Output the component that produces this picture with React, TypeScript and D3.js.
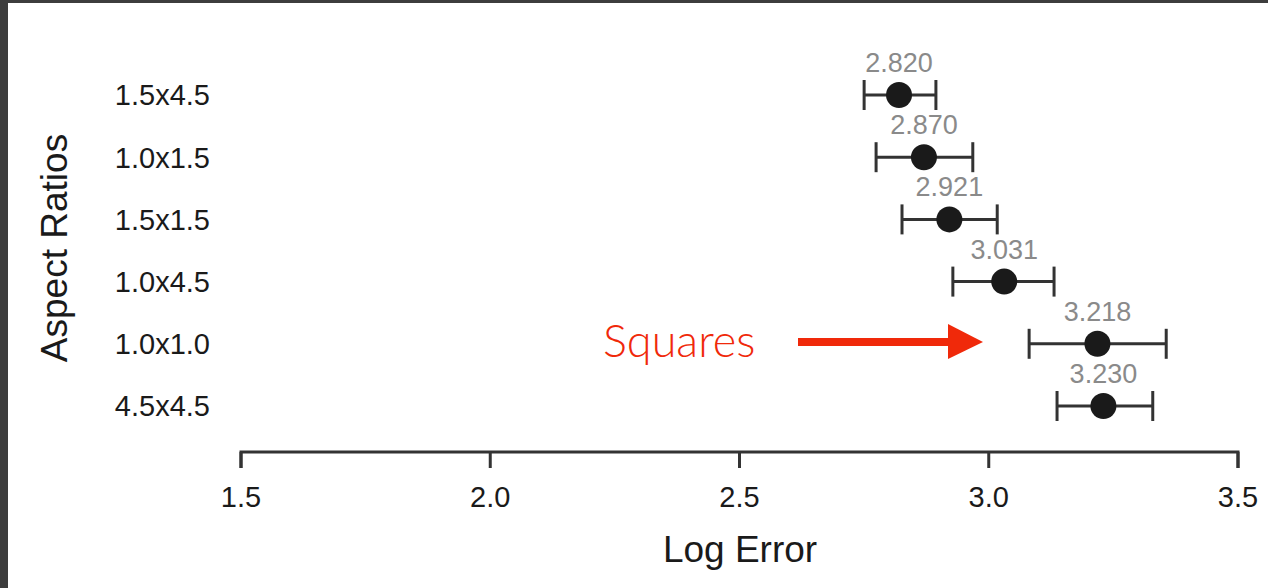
import * as React from "react";
import * as d3 from "d3";

const categories = ["1.5x4.5", "1.0x1.5", "1.5x1.5", "1.0x4.5", "1.0x1.0", "4.5x4.5"];
const means = [2.82, 2.87, 2.921, 3.031, 3.218, 3.23];
const lower = [2.75, 2.774, 2.826, 2.928, 3.081, 3.137];
const upper = [2.894, 2.968, 3.017, 3.131, 3.356, 3.329];
const xTicks = [1.5, 2.0, 2.5, 3.0, 3.5];

const W = 1268;
const H = 588;
const font = "'Liberation Sans', Arial, sans-serif";
const red = "#f0290a";

export default function App() {
  const x = d3.scaleLinear().domain([1.5, 3.5]).range([241, 1238]);
  const y = d3.scalePoint<string>().domain(categories).range([95, 406]);
  const axisY = 452;

  const rows = categories.map((c, i) => ({
    c,
    m: means[i],
    lo: lower[i],
    hi: upper[i],
  }));

  return (
    <div style={{ position: "fixed", left: 0, top: 0 }}>
      <svg width={W} height={H} style={{ display: "block" }}>
        <rect width={W} height={H} fill="#fff" />
        {/* dark frame along top and left */}
        <rect x={0} y={0} width={W} height={3} fill="#3d3d3d" />
        <rect x={0} y={0} width={8} height={H} fill="#3d3d3d" />

        {/* y labels */}
        {categories.map((c) => (
          <text
            key={c}
            x={210}
            y={y(c)}
            dy="0.36em"
            textAnchor="end"
            fontFamily={font}
            fontSize={29}
            fill="#1a1a1a"
          >
            {c}
          </text>
        ))}
        <text
          transform={`translate(67, 248) rotate(-90)`}
          textAnchor="middle"
          fontFamily={font}
          fontSize={37}
          fill="#1a1a1a"
        >
          Aspect Ratios
        </text>

        {/* error bars */}
        {rows.map((d) => {
          const cy = y(d.c)!;
          return (
            <g key={d.c} stroke="#333" strokeWidth={3}>
              <line x1={x(d.lo)} x2={x(d.hi)} y1={cy} y2={cy} />
              <line x1={x(d.lo)} x2={x(d.lo)} y1={cy - 15} y2={cy + 15} />
              <line x1={x(d.hi)} x2={x(d.hi)} y1={cy - 15} y2={cy + 15} />
              <circle cx={x(d.m)} cy={cy} r={13} fill="#1a1a1a" stroke="none" />
              <text
                x={x(d.m)}
                y={cy - 23}
                textAnchor="middle"
                fontFamily={font}
                fontSize={27}
                fill="#8a8a8a"
                stroke="none"
              >
                {d.m.toFixed(3)}
              </text>
            </g>
          );
        })}

        {/* x axis */}
        <g stroke="#333" strokeWidth={3} fill="none">
          <path d={`M${x(1.5)},${axisY + 16}V${axisY}H${x(3.5)}V${axisY + 16}`} />
          {xTicks.map((t) => (
            <line key={t} x1={x(t)} x2={x(t)} y1={axisY} y2={axisY + 16} />
          ))}
        </g>
        {xTicks.map((t) => (
          <text
            key={t}
            x={x(t)}
            y={507}
            textAnchor="middle"
            fontFamily={font}
            fontSize={29}
            fill="#1a1a1a"
          >
            {t.toFixed(1)}
          </text>
        ))}
        <text x={740} y={562} textAnchor="middle" fontFamily={font} fontSize={37} fill="#1a1a1a">
          Log Error
        </text>

        {/* annotation */}
        <text x={603} y={357} fontFamily="Lato, 'Open Sans', sans-serif" fontWeight={300} fontSize={45} fill={red}>
          Squares
        </text>
        <line x1={798} x2={950} y1={342} y2={342} stroke={red} strokeWidth={8} />
        <path d="M948,324L983,342L948,359Z" fill={red} />
      </svg>
    </div>
  );
}
